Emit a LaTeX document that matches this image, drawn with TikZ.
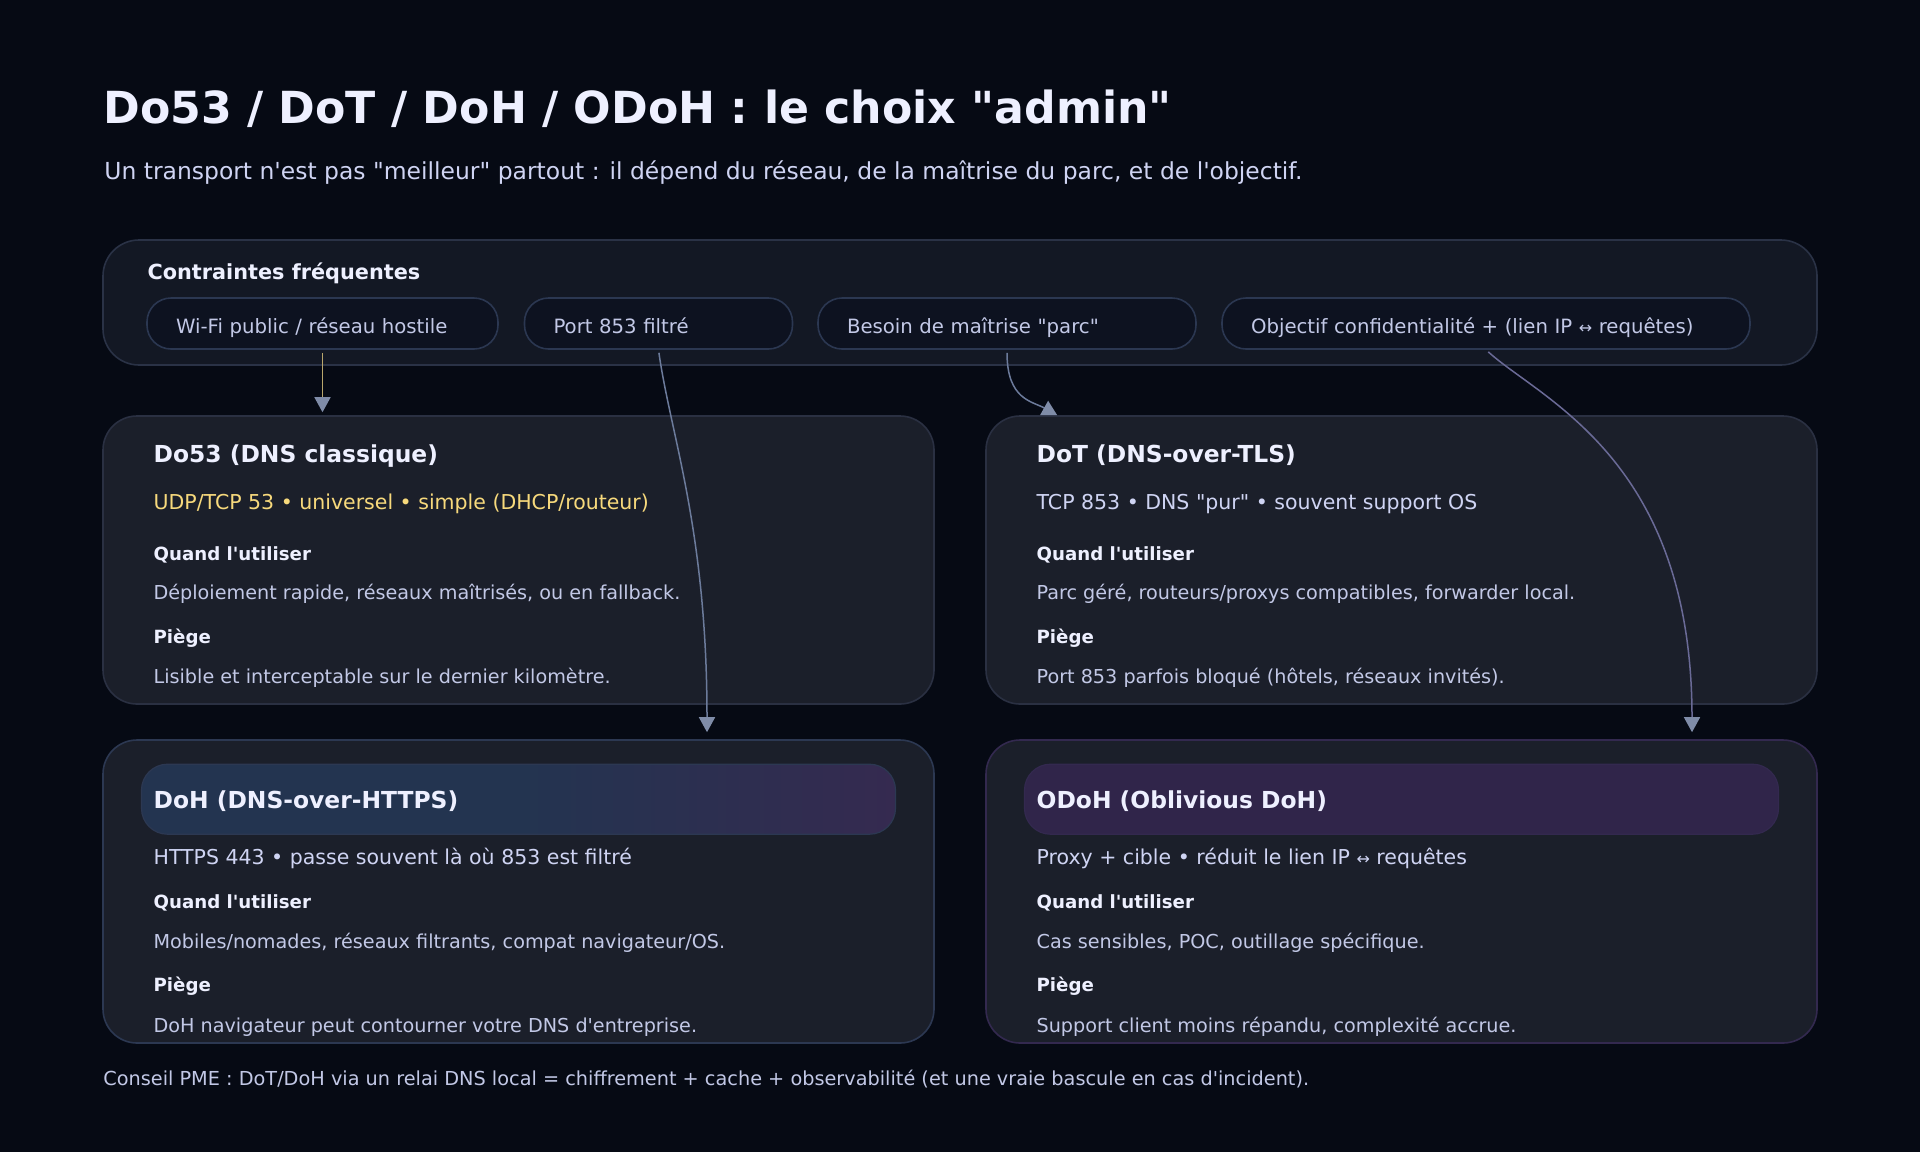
\documentclass[tikz,border=0pt]{standalone}
\usepackage{fontspec}
\usepackage{xcolor}
\usepackage{tikz}
\usetikzlibrary{calc, arrows.meta}

\newfontfamily\uifont{DejaVu Sans}

\definecolor{bg}{HTML}{060A14}
\definecolor{panelfill}{HTML}{131824}
\definecolor{panelline}{HTML}{2A3246}
\definecolor{chipfill}{HTML}{0D1220}
\definecolor{chipline}{HTML}{2B3751}
\definecolor{cardfill}{HTML}{1B1F2A}
\definecolor{cardline}{HTML}{2A3042}
\definecolor{blueline}{HTML}{2C3852}
\definecolor{purpleline}{HTML}{33294F}
\definecolor{headtext}{HTML}{EEF0FF}
\definecolor{subtext}{HTML}{CFD4F3}
\definecolor{bodytext}{HTML}{C2C8E6}
\definecolor{gold}{HTML}{F7D97C}
\definecolor{dohband}{HTML}{233450}
\definecolor{dohbandend}{HTML}{352A50}
\definecolor{odohband}{HTML}{30254A}
\definecolor{linkline}{HTML}{6C7B9B}
\definecolor{linkgold}{HTML}{B9A66C}
\definecolor{linkpurple}{HTML}{6A6A96}
\definecolor{linkhead}{HTML}{7F8CA8}

\newcommand{\lr}{{\fontsize{8}{9}\selectfont ↔}}

\begin{document}
\begin{tikzpicture}[x=0.5pt, y=-0.5pt,
		panel/.style={draw=panelline, fill=panelfill, line width=0.8pt, rounded corners=18pt, inner sep=0pt},
		chip/.style={draw=chipline, fill=chipfill, line width=0.8pt, rounded corners=12pt, inner xsep=14.5pt, inner ysep=0pt, minimum height=25.5pt, text height=10pt, text depth=0pt, align=left, text=bodytext, font=\uifont\fontsize{9.85}{11}\selectfont},
		card/.style={draw=cardline, fill=cardfill, line width=0.8pt, rounded corners=17pt, minimum width=415.5pt, inner sep=0pt},
		band/.style={draw=#1, line width=0.6pt, rounded corners=13pt, minimum width=377pt, minimum height=35pt, inner sep=0pt},
		txt/.style={anchor=mid west, inner sep=0pt, text=bodytext, font=\uifont\fontsize{9.6}{11}\selectfont},
		cardtitle/.style={txt, text=headtext, font=\uifont\bfseries\fontsize{11.7}{14}\selectfont},
		cardsub/.style={txt, text=subtext, font=\uifont\fontsize{10.25}{12}\selectfont},
		label/.style={txt, text=headtext, font=\uifont\bfseries\fontsize{9.1}{11}\selectfont},
		link/.style={line width=0.75pt, draw=linkline, -{Triangle[length=7.5pt, width=8pt, color=linkhead]}, shorten <=1.5pt}
	]
	
	\fill[bg] (0,0) rectangle (1920,1152);
	\useasboundingbox (0,0) rectangle (1920,1152);
	
	% heading
	\node[anchor=base west, inner sep=0pt, text=headtext, font=\uifont\bfseries\fontsize{22.1}{26}\selectfont] (title) at (103,123) {Do53 / DoT / DoH / ODoH : le choix "admin"};
	\node[anchor=base west, inner sep=0pt, text=subtext, font=\uifont\fontsize{11.72}{14}\selectfont] (subtitle) at (104,179) {Un transport n'est pas "meilleur" partout : il dépend du réseau, de la maîtrise du parc, et de l'objectif.};
	
	% constraints
	\node[panel, minimum width=857pt, minimum height=62.5pt] (constraints) at (960,302.5) {};
	\node[label, font=\uifont\bfseries\fontsize{10.4}{12}\selectfont] (constraints title) at ($ (constraints.north west) + (45,36) $) {Contraintes fréquentes};
	
	\node[chip, text width=146.5pt] (wifi) at (322.5,323.5) {Wi-Fi public / réseau hostile};
	\node[chip, text width=105pt] (port) at (658.5,323.5) {Port 853 filtré};
	\node[chip, text width=160pt] (parc) at (1007,323.5) {Besoin de maîtrise "parc"};
	\node[chip, text width=235pt] (privacy) at (1486,323.5) {Objectif confidentialité + (lien IP \lr{} requêtes)};
	
	% cards
	\node[card, minimum height=144pt] (do53) at (518.5,560) {};
	\node[card, minimum height=144pt] (dot) at (1401.5,560) {};
	\node[card, draw=blueline, minimum height=151.5pt] (doh) at (518.5,891.5) {};
	\node[card, draw=purpleline, minimum height=151.5pt] (odoh) at (1401.5,891.5) {};
	
	\node[band=blueline, left color=dohband, right color=dohbandend, middle color=dohband] (doh band) at ($ (doh.north) + (0,60) $) {};
	\node[band=purpleline, fill=odohband] (odoh band) at ($ (odoh.north) + (0,60) $) {};
	
	% Do53
	\node[cardtitle] (do53 title) at ($ (do53.north west) + (51,43) $) {Do53 (DNS classique)};
	\node[cardsub, text=gold] (do53 sub) at ($ (do53.north west) + (51,90) $) {UDP/TCP 53 • universel • simple (DHCP/routeur)};
	\node[label] (do53 when) at ($ (do53.north west) + (51,141) $) {Quand l'utiliser};
	\node[txt] (do53 use) at ($ (do53.north west) + (51,180) $) {Déploiement rapide, réseaux maîtrisés, ou en fallback.};
	\node[label] (do53 trap) at ($ (do53.north west) + (51,224) $) {Piège};
	\node[txt] (do53 risk) at ($ (do53.north west) + (51,264) $) {Lisible et interceptable sur le dernier kilomètre.};
	
	% DoT
	\node[cardtitle] (dot title) at ($ (dot.north west) + (51,43) $) {DoT (DNS-over-TLS)};
	\node[cardsub] (dot sub) at ($ (dot.north west) + (51,90) $) {TCP 853 • DNS "pur" • souvent support OS};
	\node[label] (dot when) at ($ (dot.north west) + (51,141) $) {Quand l'utiliser};
	\node[txt] (dot use) at ($ (dot.north west) + (51,180) $) {Parc géré, routeurs/proxys compatibles, forwarder local.};
	\node[label] (dot trap) at ($ (dot.north west) + (51,224) $) {Piège};
	\node[txt] (dot risk) at ($ (dot.north west) + (51,264) $) {Port 853 parfois bloqué (hôtels, réseaux invités).};
	
	% DoH
	\node[cardtitle] (doh title) at ($ (doh.north west) + (51,65) $) {DoH (DNS-over-HTTPS)};
	\node[cardsub] (doh sub) at ($ (doh.north west) + (51,121) $) {HTTPS 443 • passe souvent là où 853 est filtré};
	\node[label] (doh when) at ($ (doh.north west) + (51,165) $) {Quand l'utiliser};
	\node[txt] (doh use) at ($ (doh.north west) + (51,205) $) {Mobiles/nomades, réseaux filtrants, compat navigateur/OS.};
	\node[label] (doh trap) at ($ (doh.north west) + (51,248) $) {Piège};
	\node[txt] (doh risk) at ($ (doh.north west) + (51,289) $) {DoH navigateur peut contourner votre DNS d'entreprise.};
	
	% ODoH
	\node[cardtitle] (odoh title) at ($ (odoh.north west) + (51,65) $) {ODoH (Oblivious DoH)};
	\node[cardsub] (odoh sub) at ($ (odoh.north west) + (51,121) $) {Proxy + cible • réduit le lien IP \lr{} requêtes};
	\node[label] (odoh when) at ($ (odoh.north west) + (51,165) $) {Quand l'utiliser};
	\node[txt] (odoh use) at ($ (odoh.north west) + (51,205) $) {Cas sensibles, POC, outillage spécifique.};
	\node[label] (odoh trap) at ($ (odoh.north west) + (51,248) $) {Piège};
	\node[txt] (odoh risk) at ($ (odoh.north west) + (51,289) $) {Support client moins répandu, complexité accrue.};
	
	% links
	\draw[link, draw=linkgold, shorten >=1.5pt] (wifi.south) -- (wifi.south |- do53.north);
	\draw[link, shorten >=3.5pt] (port.south) .. controls +(12,85) and +(0,-210) .. ([xshift=94.25pt]doh.north);
	\draw[link] (parc.south) .. controls +(0,50) and +(-25,-14) .. ([xshift=36pt]dot.north west);
	\draw[link, draw=linkpurple, shorten >=3.5pt] (privacy.south) .. controls +(55,50) and +(0,-280) .. ([xshift=145.25pt]odoh.north);
	
	\node[txt, font=\uifont\fontsize{9.64}{12}\selectfont] (advice) at (103,1081) {Conseil PME : DoT/DoH via un relai DNS local = chiffrement + cache + observabilité (et une vraie bascule en cas d'incident).};
\end{tikzpicture}
\end{document}
